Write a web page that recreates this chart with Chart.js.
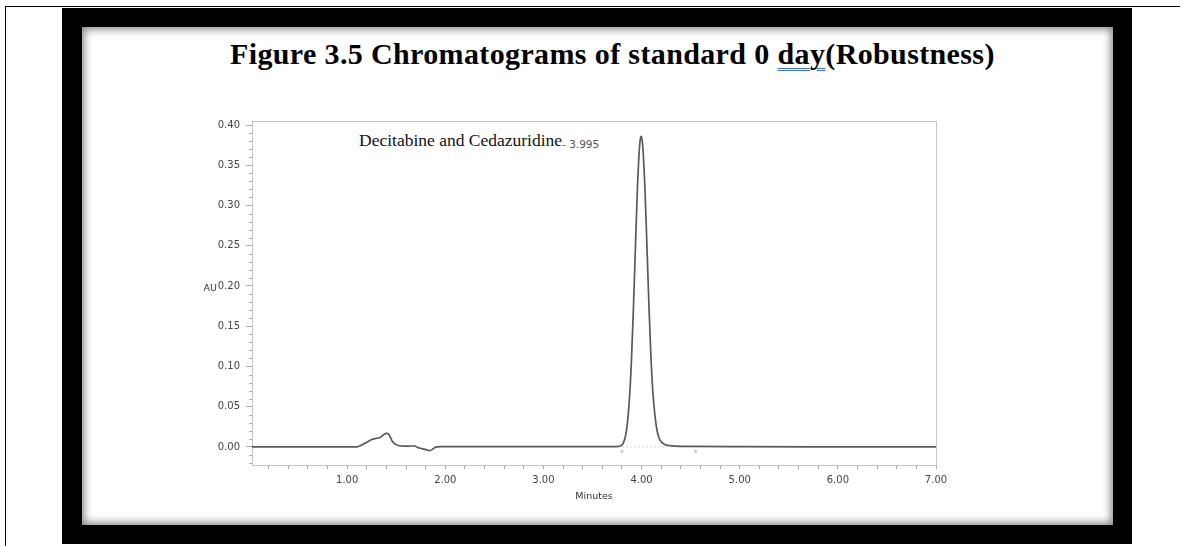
<!DOCTYPE html>
<html>
<head>
<meta charset="utf-8">
<title>Chromatogram</title>
<script src="https://cdn.jsdelivr.net/npm/chart.js@4.4.1/dist/chart.umd.min.js"></script>
<style>
    html, body { margin: 0; padding: 0; background: #fff; }
    #page { position: relative; width: 1182px; height: 546px; overflow: hidden; background: #fff; }
    .rule-top { position: absolute; left: 5px; top: 6px; width: 1175px; height: 1px; background: #000; }
    .rule-left { position: absolute; left: 5px; top: 6px; width: 1px; height: 540px; background: #000; }
    #frame { position: absolute; left: 62px; top: 8px; width: 1070px; height: 536px; background: #000; }
    #sheet {
        position: absolute; left: 20px; top: 19px; width: 1031px; height: 498px; background: #fff;
        box-shadow: inset 0 0 8px 2px rgba(0, 0, 0, 0.5);
    }
    #title {
        position: absolute; left: 230px; top: 39px; white-space: nowrap;
        font-family: "Liberation Serif", "Times New Roman", serif; font-weight: bold;
        font-size: 30px; line-height: 30px; letter-spacing: 0.37px; color: #000;
    }
    #title .spell { text-decoration: underline double #3f72d8; text-decoration-thickness: 1px; text-underline-offset: 4px; }
    #peakName {
        position: absolute; left: 359px; top: 132px; white-space: nowrap;
        font-family: "Liberation Serif", "Times New Roman", serif; font-size: 17.5px; line-height: 17.5px; color: #111;
    }
    #peakTime {
        position: absolute; left: 562px; top: 138px; white-space: nowrap;
        font-family: "DejaVu Sans", sans-serif; font-size: 10.5px; line-height: 12px; color: #555;
    }
    #chartBox { position: absolute; left: 190px; top: 110px; width: 780px; height: 410px; }
</style>
</head>
<body>
<div id="page">
    <div class="rule-top"></div>
    <div class="rule-left"></div>
    <div id="frame"><div id="sheet"></div></div>
    <div id="title">Figure 3.5 Chromatograms of standard 0 <span class="spell">day</span>(Robustness)</div>
    <div id="peakName">Decitabine and Cedazuridine</div>
    <div id="peakTime"></div>
    <div id="chartBox"><canvas id="chromChart" width="780" height="410"></canvas></div>
</div>
<script>
// Detector trace: retention time (min) and absorbance (AU)
var retentionTimes = [
    0.03, 0.50, 1.00, 1.10, 1.15, 1.20, 1.25, 1.30, 1.34, 1.37, 1.40, 1.42, 1.44, 1.46, 1.49,
    1.52, 1.58, 1.65, 1.69, 1.72, 1.76, 1.80, 1.84, 1.87, 1.90, 1.95, 2.50, 3.00, 3.50, 3.75,
    3.795, 3.815, 3.835, 3.855, 3.875, 3.895, 3.915, 3.935, 3.955, 3.975, 3.985, 3.995,
    4.005, 4.015, 4.035, 4.055, 4.075, 4.095, 4.115, 4.135, 4.155, 4.175, 4.195, 4.23,
    4.28, 4.35, 4.50, 5.00, 6.00, 7.00
];
var absorbance = [
    0.0000, 0.0000, 0.0000, 0.0000, 0.0025, 0.0060, 0.0092, 0.0108, 0.0122, 0.0152, 0.0168, 0.0162, 0.0122, 0.0070, 0.0035,
    0.0018, 0.0010, 0.0012, 0.0012, -0.0008, -0.0020, -0.0033, -0.0045, -0.0028, -0.0002, 0.0004, 0.0005, 0.0004, 0.0004, 0.0004,
    0.0020, 0.0054, 0.0130, 0.0290, 0.0580, 0.1030, 0.1660, 0.2400, 0.3130, 0.3660, 0.3810, 0.3860,
    0.3820, 0.3680, 0.3180, 0.2480, 0.1750, 0.1120, 0.0680, 0.0400, 0.0220, 0.0120, 0.0070, 0.0035,
    0.0018, 0.0010, 0.0007, 0.0004, 0.0002, 0.0001
];

// Peak integration start / end
var integrationTimes = [3.80, 4.55];
var integrationLevel = [0.0002, 0.0002];
var integrationMarks = [-0.0055, -0.0055];

var peakRetention = 3.995;
var peakLabel = 'Decitabine and Cedazuridine';

// Axis ticks
var xTickValues = [1, 2, 3, 4, 5, 6, 7];
var xMinorStep = 0.2;
var yTickValues = [0, 0.05, 0.10, 0.15, 0.20, 0.25, 0.30, 0.35, 0.40];
var yMinorStep = 0.01;

document.getElementById('peakName').textContent = peakLabel;
document.getElementById('peakTime').textContent = '- ' + peakRetention.toFixed(3);

function toPoints(xs, ys) {
    return xs.map(function(x, i) { return { x: x, y: ys[i] }; });
}

var tickFont = { family: 'DejaVu Sans', size: 10 };
var tickColor = '#444';

// Plot frame plus the short minor ticks on the AU axis
var frameAndMinors = {
    id: 'frameAndMinors',
    beforeDatasetsDraw: function(chart) {
        var a = chart.chartArea;
        var ctx = chart.ctx;
        ctx.save();
        ctx.strokeStyle = '#c4c4c4';
        ctx.lineWidth = 1;
        ctx.strokeRect(Math.round(a.left) + 0.5, Math.round(a.top) + 0.5,
            Math.round(a.right - a.left), Math.round(a.bottom - a.top));

        var y = chart.scales.y;
        ctx.strokeStyle = '#a8a8a8';
        ctx.beginPath();
        for (var v = -0.02; v <= 0.4001; v += yMinorStep) {
            var r = Math.round(v * 100);
            if (r % 5 === 0) continue;
            var py = Math.round(y.getPixelForValue(r / 100)) + 0.5;
            ctx.moveTo(a.left - 3, py);
            ctx.lineTo(a.left, py);
        }
        ctx.stroke();

        // unit label beside the 0.20 tick
        ctx.fillStyle = '#333';
        ctx.font = '9.5px "DejaVu Sans"';
        ctx.textAlign = 'right';
        ctx.textBaseline = 'middle';
        ctx.fillText('AU', a.left - 35, y.getPixelForValue(0.2) + 3);
        ctx.restore();
    }
};

var ctx = document.getElementById('chromChart').getContext('2d');
var chromChart = new Chart(ctx, {
    type: 'line',
    data: {
        datasets: [
            {
                label: 'Trace',
                data: toPoints(retentionTimes, absorbance),
                borderColor: '#595959',
                borderWidth: 1.7,
                pointRadius: 0,
                cubicInterpolationMode: 'monotone',
                fill: false
            },
            {
                label: 'Integration baseline',
                data: toPoints(integrationTimes, integrationLevel),
                borderColor: '#d0d0d0',
                borderWidth: 1,
                borderDash: [2, 2],
                pointRadius: 0,
                fill: false
            },
            {
                label: 'Integration marks',
                data: toPoints(integrationTimes, integrationMarks),
                showLine: false,
                pointStyle: 'rect',
                pointRadius: 1.5,
                pointBackgroundColor: '#c8c8c8',
                pointBorderColor: '#b8b8b8',
                pointBorderWidth: 0.5
            }
        ]
    },
    options: {
        responsive: false,
        animation: false,
        layout: { padding: { top: 11, right: 34, bottom: 0, left: 0 } },
        plugins: {
            legend: { display: false },
            tooltip: { enabled: false }
        },
        scales: {
            x: {
                type: 'linear',
                min: 0.03,
                max: 7.0,
                afterBuildTicks: function(scale) {
                    var ticks = [];
                    for (var i = 1; i * xMinorStep <= 7.0001; i++) {
                        ticks.push({ value: Math.round(i * xMinorStep * 10) / 10 });
                    }
                    scale.ticks = ticks;
                },
                afterFit: function(scale) {
                    scale.height = 55;
                    scale.paddingLeft = 0;
                    scale.paddingRight = 0;
                },
                ticks: {
                    autoSkip: false,
                    maxRotation: 0,
                    padding: 5,
                    font: tickFont,
                    color: tickColor,
                    callback: function(value) {
                        return xTickValues.indexOf(value) >= 0 ? value.toFixed(2) : '';
                    }
                },
                grid: { drawOnChartArea: false, tickLength: 4, color: '#a8a8a8' },
                border: { display: false },
                title: {
                    display: true,
                    text: 'Minutes',
                    color: '#333',
                    font: { family: 'DejaVu Sans', size: 9.5 },
                    padding: { top: 0, bottom: 18 }
                }
            },
            y: {
                min: -0.0224,
                max: 0.405,
                afterBuildTicks: function(scale) {
                    scale.ticks = yTickValues.map(function(v) { return { value: v }; });
                },
                afterFit: function(scale) {
                    scale.width = 62;
                    scale.paddingTop = 0;
                    scale.paddingBottom = 0;
                },
                ticks: {
                    padding: 6,
                    font: tickFont,
                    color: tickColor,
                    callback: function(value) { return value.toFixed(2); }
                },
                grid: { drawOnChartArea: false, tickLength: 6, color: '#a8a8a8' },
                border: { display: false }
            }
        }
    },
    plugins: [frameAndMinors]
});
</script>
</body>
</html>
